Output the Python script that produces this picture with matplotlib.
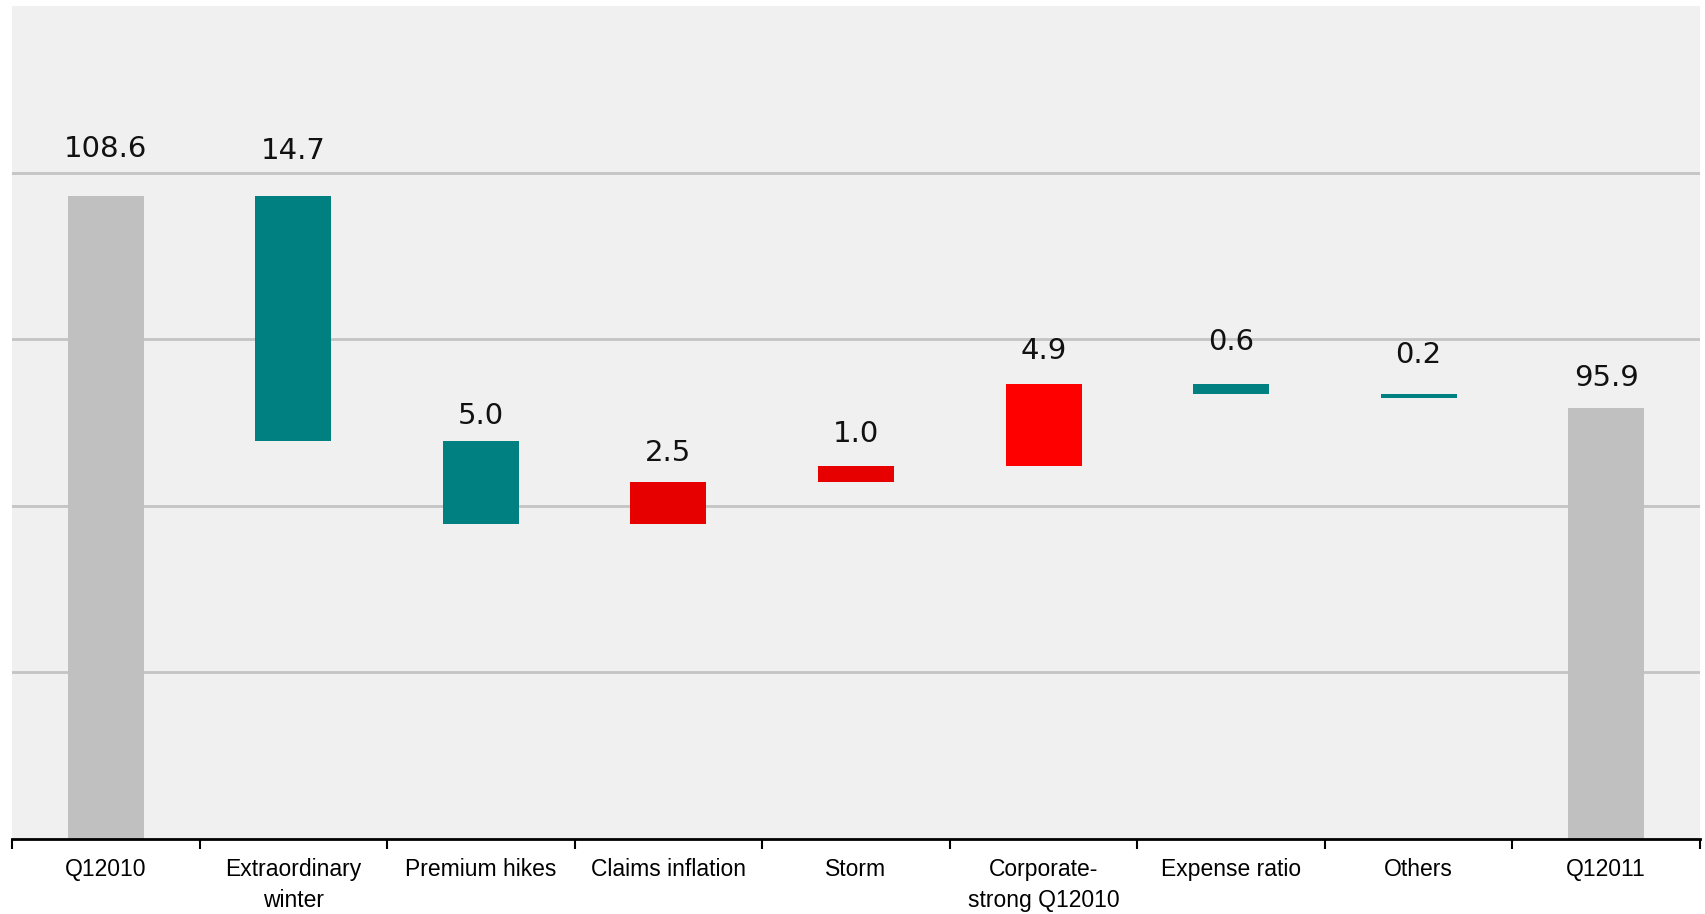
import numpy as np
import matplotlib.pyplot as plt

# Combined ratio walk, Q1 2010 -> Q1 2011
categories = ["Q12010", "Extraordinary\nwinter", "Premium hikes", "Claims inflation",
              "Storm", "Corporate-\nstrong Q12010", "Expense ratio", "Others", "Q12011"]
start_value = 108.6
end_value = 95.9
steps = [-14.7, -5.0, 2.5, 1.0, 4.9, -0.6, -0.2]
step_colors = ["#008080", "#008080", "#e60000", "#e60000", "#ff0000", "#008080", "#008080"]

# gap (points) between each bar top and its value label
label_offsets = [23.5, 22, 8, 11, 12.5, 13.5, 20.5, 18, 11]

TOTAL_COLOR = "#c0c0c0"
BG = "#f0f0f0"

fig = plt.figure(figsize=(17.06, 9.14), dpi=100)
ax = fig.add_axes([12 / 1706, 75 / 914, 1688 / 1706, 833 / 914])
ax.set_facecolor(BG)

x = np.arange(len(categories))
width = 0.405

# floating bars for the steps, full bars for the two totals
bottoms, heights, colors, labels = [], [], [], []
level = start_value
bottoms.append(0); heights.append(start_value); colors.append(TOTAL_COLOR); labels.append(start_value)
for s, c in zip(steps, step_colors):
    new = level + s
    bottoms.append(min(level, new))
    heights.append(abs(s))
    colors.append(c)
    labels.append(abs(s))
    level = new
bottoms.append(0); heights.append(end_value); colors.append(TOTAL_COLOR); labels.append(end_value)

ax.bar(x, heights, width, bottom=bottoms, color=colors, zorder=3)

for xi, b, h, v, off in zip(x, bottoms, heights, labels, label_offsets):
    ax.annotate(f"{v:.1f}", (xi, b + h), xytext=(0, off), textcoords="offset points",
                ha="center", va="bottom", fontsize=21, family="DejaVu Sans", color="#111111")

ax.set_ylim(70, 120)
ax.set_xlim(-0.5, len(categories) - 0.5)
ax.set_yticks([80, 90, 100, 110])
ax.yaxis.grid(True, color="#c4c4c4", linewidth=2.0, zorder=1)
ax.tick_params(axis="y", left=False, labelleft=False)

ax.set_xticks(np.arange(-0.5, len(categories)), minor=False)
ax.set_xticklabels([])
ax.set_xticks(x, minor=True)
ax.set_xticklabels(categories, minor=True, fontsize=16.5, family="Liberation Sans",
                   linespacing=1.4, va="top")
ax.tick_params(axis="x", which="major", direction="out", length=7, width=1.5, color="black")
ax.tick_params(axis="x", which="minor", length=0, pad=14)

for side in ["left", "right", "top"]:
    ax.spines[side].set_visible(False)
ax.spines["bottom"].set_color("black")
ax.spines["bottom"].set_linewidth(2)
ax.spines["bottom"].set_zorder(4)

fig.savefig("out.png", dpi=100, facecolor="white")
